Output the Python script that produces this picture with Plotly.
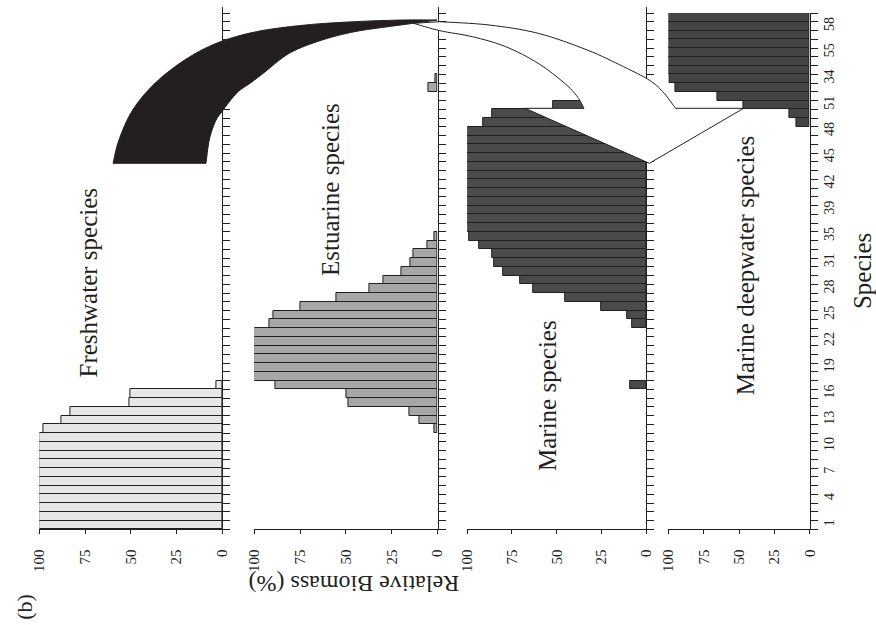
import plotly.graph_objects as go

# ---- data -------------------------------------------------------------
n_species = 59
species = list(range(1, n_species + 1))

freshwater = [100] * 11 + [98, 88, 83, 51, 50, 3] + [0] * 42

estuarine = ([0] * 11
             + [1.5, 10, 15.5, 48.5, 50, 88.5]
             + [100] * 6
             + [92, 89.5, 75, 55, 37, 29.5, 19.5, 15, 13, 5.5, 1.5]
             + [0] * 16
             + [5, 1]
             + [0] * 7)

marine = ([0] * 16
          + [9]
          + [0] * 6
          + [8, 10.5, 25, 45, 63, 70.5, 80, 85, 86, 93.5, 99]
          + [100] * 12
          + [91, 86, 52, 35]
          + [0] * 9)

deepwater = [0] * 46 + [9.5, 14.5, 47, 65, 95, 99] + [100] * 7

panel_titles = ["Freshwater species", "Estuarine species",
                "Marine species", "Marine deepwater species"]

species_tickvals = list(range(1, 59, 3))
species_ticktext = ["1", "4", "7", "10", "13", "16", "19", "22", "25", "28",
                    "31", "35", "39", "42", "45", "48", "51", "34", "55", "58"]

biomass_ticks = [0, 25, 50, 75, 100]

# ---- page geometry (pixels) --------------------------------------------
W, H = 876, 625
INK = "#231f20"
FONT = "Liberation Serif, Times New Roman, serif"


def fx(px):
    return px / W


def fy(py):
    return 1 - py / H


series = [freshwater, estuarine, marine, deepwater]
fills = ["#e6e6e6", "#a7a7a7", "#4b4b4b", "#444444"]
x_px = [(32, 218.3), (251, 437.5), (467.7, 650), (672.7, 816.7)]
title_px = [(81, 283), (328, 190), (549, 395), (752, 265)]
y_bottom, y_top = 529.3, 13.0
slot = (y_bottom - y_top) / n_species

fig = go.Figure()
layout = dict(
    width=W, height=H,
    margin=dict(l=0, r=0, t=0, b=0),
    paper_bgcolor="white", plot_bgcolor="rgba(0,0,0,0)",
    showlegend=False, bargap=0,
    font=dict(family=FONT, color=INK),
)

for i, vals in enumerate(series):
    k = "" if i == 0 else str(i + 1)
    xs = [v for v in vals if v > 0]
    ys = [s for s, v in zip(species, vals) if v > 0]
    fig.add_trace(go.Bar(
        x=xs, y=ys, orientation="h", width=1,
        marker=dict(color=fills[i], line=dict(color=INK, width=1)),
        xaxis="x" + k, yaxis="y" + k, cliponaxis=False,
        hoverinfo="skip",
    ))
    # the three left panels carry a slightly taller species axis line
    top_px = y_top if i == 3 else 7.0
    top_val = n_species + 0.5 + (y_top - top_px) / slot
    layout["xaxis" + k] = dict(
        domain=[fx(x_px[i][0]), fx(x_px[i][1])],
        range=[100, 0], anchor="y" + k,
        showgrid=False, zeroline=False,
        showline=True, linecolor=INK, linewidth=1.2,
        ticks="outside", ticklen=4, tickcolor=INK, tickwidth=1,
        tickmode="array", tickvals=biomass_ticks,
        tickangle=-90, ticklabelstandoff=9,
        tickfont=dict(family=FONT, size=15, color=INK),
        fixedrange=True,
    )
    layout["yaxis" + k] = dict(
        domain=[fy(y_bottom), fy(top_px)],
        range=[0.5, top_val], anchor="x" + k, side="right",
        showgrid=False, zeroline=False,
        showline=True, linecolor=INK, linewidth=1.2,
        ticks="", tickmode="array",
        tickvals=species_tickvals, ticktext=species_ticktext,
        showticklabels=(i == 3), tickangle=-90, ticklabelstandoff=6,
        tickfont=dict(family=FONT, size=14, color=INK),
        minor=dict(ticks="outside", ticklen=7, tickcolor=INK, tickwidth=1,
                   tickmode="linear", tick0=0.5, dtick=1),
        fixedrange=True,
    )

fig.update_layout(**layout)


# ---- curved ribbon arrow from the freshwater panel to the marine panels ----
def path_from(points, close=True):
    parts = []
    for j, (x, y) in enumerate(points):
        parts.append(("M" if j == 0 else "L") + f"{fx(x):.5f},{fy(y):.5f}")
    return " ".join(parts) + (" Z" if close else "")


def smooth(points, steps=8):
    """Catmull-Rom interpolation through the given control points."""
    out = []
    pts = [points[0]] + list(points) + [points[-1]]
    for j in range(1, len(pts) - 2):
        p0, p1, p2, p3 = pts[j - 1], pts[j], pts[j + 1], pts[j + 2]
        for s in range(steps):
            t = s / steps
            t2, t3 = t * t, t * t * t
            x = 0.5 * ((2 * p1[0]) + (-p0[0] + p2[0]) * t
                       + (2 * p0[0] - 5 * p1[0] + 4 * p2[0] - p3[0]) * t2
                       + (-p0[0] + 3 * p1[0] - 3 * p2[0] + p3[0]) * t3)
            y = 0.5 * ((2 * p1[1]) + (-p0[1] + p2[1]) * t
                       + (2 * p0[1] - 5 * p1[1] + 4 * p2[1] - p3[1]) * t2
                       + (-p0[1] + 3 * p1[1] - 3 * p2[1] + p3[1]) * t3)
            out.append((x, y))
    out.append(points[-1])
    return out


black_inner = [(201.7, 163.3), (205, 140), (211, 122), (218, 111.5),
               (233, 93), (247, 83), (260, 73.3), (287, 53), (320, 40),
               (353, 31.7), (387, 26.7), (413, 23.3)]
black_outer = [(437, 20), (403, 20), (353, 21.7), (303, 25), (253, 31.7),
               (213, 43), (180, 60), (150, 83), (127, 110), (113, 140),
               (107, 163.3)]
black_pts = smooth(black_inner) + smooth(black_outer)

white_inner = [(413, 23.3), (440, 30.7), (473, 36.7), (507, 46.7),
               (540, 63.3), (567, 83.3), (580, 96.7), (586.7, 108.3)]
white_head = [(526.7, 108.3), (653.3, 163.3), (749.3, 108.3)]
white_outer = [(680, 108.3), (667, 91.7), (653, 80), (627, 66.7),
               (590, 50), (540, 33.3), (490, 25), (440, 21.7)]
white_pts = smooth(white_inner) + white_head + smooth(white_outer)

fig.add_shape(type="path", xref="paper", yref="paper", layer="above",
              path=path_from(black_pts), fillcolor=INK,
              line=dict(color=INK, width=1))
fig.add_shape(type="path", xref="paper", yref="paper", layer="above",
              path=path_from(white_pts), fillcolor="white",
              line=dict(color=INK, width=1))


# ---- text ---------------------------------------------------------------
def label(txt, px, py, size, angle):
    fig.add_annotation(x=fx(px), y=fy(py), xref="paper", yref="paper",
                       xanchor="center", yanchor="middle",
                       text=txt, showarrow=False, textangle=angle,
                       font=dict(family=FONT, size=size, color=INK))


for (tx, ty), txt in zip(title_px, panel_titles):
    label(txt, tx, ty, 25, -90)

label("Relative Biomass (%)", 352, 584, 24, 180)
label("Species", 870, 271, 25, -90)
label("(b)", 16, 607, 22, -90)

fig.write_html("out.html")
